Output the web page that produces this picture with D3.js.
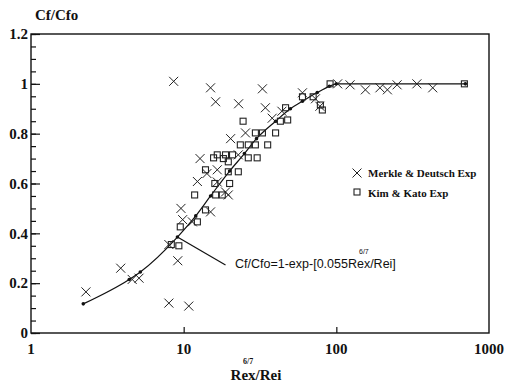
<!DOCTYPE html>
<html>
<head>
<meta charset="utf-8">
<script src="https://cdn.jsdelivr.net/npm/d3@7"></script>
<style>
  body { margin: 0; background: #fff; }
  svg text { fill: #111; }
</style>
</head>
<body>
<div class="chart-container"></div>
<script>
const totalWidth = 505;
const totalHeight = 386;

// plot box in page pixels
const plotLeft = 31, plotRight = 489, plotTop = 34, plotBottom = 333;

// Merkle & Deutsch experiment (x = Rex/Rei^6/7, y = Cf/Cfo)
const merkleX = [2.29, 3.87, 4.6, 5.1, 8.0, 10.8, 9.15, 8.0, 8.6, 9.6, 9.85, 11.4, 12.3, 15.0, 19.6,
  18.8, 16.6, 16.6, 22.8, 20.3, 25.4, 12.8, 14.2, 15.0, 16.2, 22.9, 32.8, 34.3, 38, 44, 60, 73, 78,
  102, 123, 155, 193, 216, 250, 337, 428];
const merkleY = [0.165, 0.26, 0.215, 0.22, 0.12, 0.108, 0.29, 0.355, 1.01, 0.50, 0.455, 0.446, 0.608, 0.486, 0.554,
  0.566, 0.655, 0.606, 0.715, 0.78, 0.803, 0.70, 0.64, 0.984, 0.928, 0.92, 0.98, 0.904, 0.862, 0.89, 0.964, 0.94, 0.91,
  1.0, 0.996, 0.976, 0.984, 0.976, 0.996, 1.0, 0.984];

// Kim & Kato experiment
const kimX = [8.3, 9.3, 9.5, 12.3, 13.9, 11.8, 16.2, 17.9, 16.0, 20.0, 13.9, 19.6, 22.8, 15.7, 18.2, 19.6,
  16.6, 18.8, 20.9, 26.5, 30.3, 23.5, 26.5, 29.5, 35.5, 29.5, 32.8, 40, 24.5, 43, 48, 46.5, 60, 70.5,
  78.6, 81, 91, 690];
const kimY = [0.355, 0.35, 0.426, 0.446, 0.494, 0.554, 0.554, 0.554, 0.60, 0.60, 0.655, 0.647, 0.647, 0.703, 0.70, 0.687,
  0.715, 0.715, 0.715, 0.703, 0.703, 0.755, 0.755, 0.755, 0.755, 0.803, 0.803, 0.803, 0.85, 0.85, 0.855, 0.904, 0.948, 0.948,
  0.915, 0.895, 1.0, 1.0];

// correlation curve
const curveX = [2.2, 4.4, 5.2, 9.1, 12, 15, 20, 25, 30, 40, 50, 60, 75, 90, 100, 700];
const curveY = [0.117, 0.215, 0.245, 0.385, 0.47, 0.55, 0.65, 0.72, 0.78, 0.85, 0.9, 0.93, 0.965, 0.99, 1.0, 1.0];

const xTicks = [1, 10, 100, 1000];
const yTicks = [0, 0.2, 0.4, 0.6, 0.8, 1, 1.2];
const yMinor = d3.range(0, 1.2001, 0.05);

const serif = "'Liberation Serif', 'Times New Roman', serif";
const sans = "'Liberation Sans', Arial, sans-serif";

const svg = d3.select('.chart-container')
  .append('svg')
  .attr('width', totalWidth)
  .attr('height', totalHeight);

const x = d3.scaleLog().domain([1, 1000]).range([plotLeft, plotRight]);
const y = d3.scaleLinear().domain([0, 1.2]).range([plotBottom, plotTop]);

// frame
svg.append('rect')
  .attr('x', plotLeft).attr('y', plotTop)
  .attr('width', plotRight - plotLeft).attr('height', plotBottom - plotTop)
  .attr('fill', 'none').attr('stroke', '#111').attr('stroke-width', 1.4);

// y axis: inward ticks
const yAxis = svg.append('g').attr('transform', `translate(${plotLeft},0)`);
yAxis.call(d3.axisRight(y).tickValues(yMinor).tickSize(5).tickFormat(''))
  .call(g => g.select('.domain').remove());
yAxis.append('g').call(d3.axisRight(y).tickValues(yTicks).tickSize(9).tickFormat(''))
  .call(g => g.select('.domain').remove());
yAxis.selectAll('line').attr('stroke', '#111').attr('stroke-width', 1.2);

svg.append('g').selectAll('text')
  .data(yTicks)
  .join('text')
  .attr('x', plotLeft - 3)
  .attr('y', d => y(d))
  .attr('dy', '0.35em')
  .attr('text-anchor', 'end')
  .attr('font-family', serif)
  .attr('font-weight', 'bold')
  .attr('font-size', 15)
  .text(d => d);

// x axis
const xAxis = svg.append('g').attr('transform', `translate(0,${plotBottom})`);
xAxis.call(d3.axisTop(x).tickValues([10, 100]).tickSize(6).tickFormat(''))
  .call(g => g.select('.domain').remove());
xAxis.selectAll('line').attr('stroke', '#111').attr('stroke-width', 1.2);

svg.append('g').selectAll('text')
  .data(xTicks)
  .join('text')
  .attr('x', d => x(d))
  .attr('y', 354)
  .attr('text-anchor', 'middle')
  .attr('font-family', serif)
  .attr('font-weight', 'bold')
  .attr('font-size', 15)
  .text(d => d);

// axis titles
svg.append('text')
  .attr('x', 35).attr('y', 20)
  .attr('font-family', serif).attr('font-weight', 'bold').attr('font-size', 15)
  .text('Cf/Cfo');

svg.append('text')
  .attr('x', 256).attr('y', 380)
  .attr('text-anchor', 'middle')
  .attr('font-family', serif).attr('font-weight', 'bold').attr('font-size', 15)
  .text('Rex/Rei');
svg.append('text')
  .attr('x', 243).attr('y', 364)
  .attr('font-family', serif).attr('font-weight', 'bold').attr('font-size', 8)
  .text('6/7');

// curve
const curve = curveX.map((v, i) => [v, curveY[i]]);
svg.append('path')
  .datum(curve)
  .attr('fill', 'none')
  .attr('stroke', '#111')
  .attr('stroke-width', 1.2)
  .attr('d', d3.line().x(d => x(d[0])).y(d => y(d[1])).curve(d3.curveMonotoneX));
svg.append('g').selectAll('circle')
  .data(curve)
  .join('circle')
  .attr('cx', d => x(d[0])).attr('cy', d => y(d[1]))
  .attr('r', 1.8).attr('fill', '#111');

// markers
const cross = (g, s) => g.append('path')
  .attr('d', `M${-s},${-s}L${s},${s}M${-s},${s}L${s},${-s}`)
  .attr('stroke', '#222').attr('stroke-width', 1).attr('fill', 'none');

const merkle = merkleX.map((v, i) => [v, merkleY[i]]);
svg.append('g').selectAll('g')
  .data(merkle)
  .join('g')
  .attr('transform', d => `translate(${x(d[0])},${y(d[1])})`)
  .each(function () { cross(d3.select(this), 4.5); });

const kim = kimX.map((v, i) => [v, kimY[i]]);
svg.append('g').selectAll('rect')
  .data(kim)
  .join('rect')
  .attr('x', d => x(d[0]) - 3).attr('y', d => y(d[1]) - 3)
  .attr('width', 6).attr('height', 6)
  .attr('fill', 'none').attr('stroke', '#222').attr('stroke-width', 1.1);

// legend
const legend = svg.append('g').attr('font-family', serif).attr('font-weight', 'bold').attr('font-size', 11);
cross(legend.append('g').attr('transform', 'translate(357,173)'), 4.5);
legend.append('text').attr('x', 368).attr('y', 177).text('Merkle & Deutsch Exp');
legend.append('rect').attr('x', 354).attr('y', 189).attr('width', 6).attr('height', 6)
  .attr('fill', 'none').attr('stroke', '#222').attr('stroke-width', 1.1);
legend.append('text').attr('x', 368).attr('y', 197).text('Kim & Kato Exp');

// annotation of the correlation
const anchor = [9.1, 0.385];
const labelEnd = [18.8, 0.273];
svg.append('line')
  .attr('x1', x(anchor[0])).attr('y1', y(anchor[1]))
  .attr('x2', x(labelEnd[0])).attr('y2', y(labelEnd[1]))
  .attr('stroke', '#111').attr('stroke-width', 1.2);
svg.append('text')
  .attr('x', 235).attr('y', 268)
  .attr('font-family', sans).attr('font-size', 12.5)
  .text('Cf/Cfo=1-exp-[0.055Rex/Rei]');
svg.append('text')
  .attr('x', 359).attr('y', 254)
  .attr('font-family', sans).attr('font-size', 7)
  .text('6/7');
</script>
</body>
</html>
